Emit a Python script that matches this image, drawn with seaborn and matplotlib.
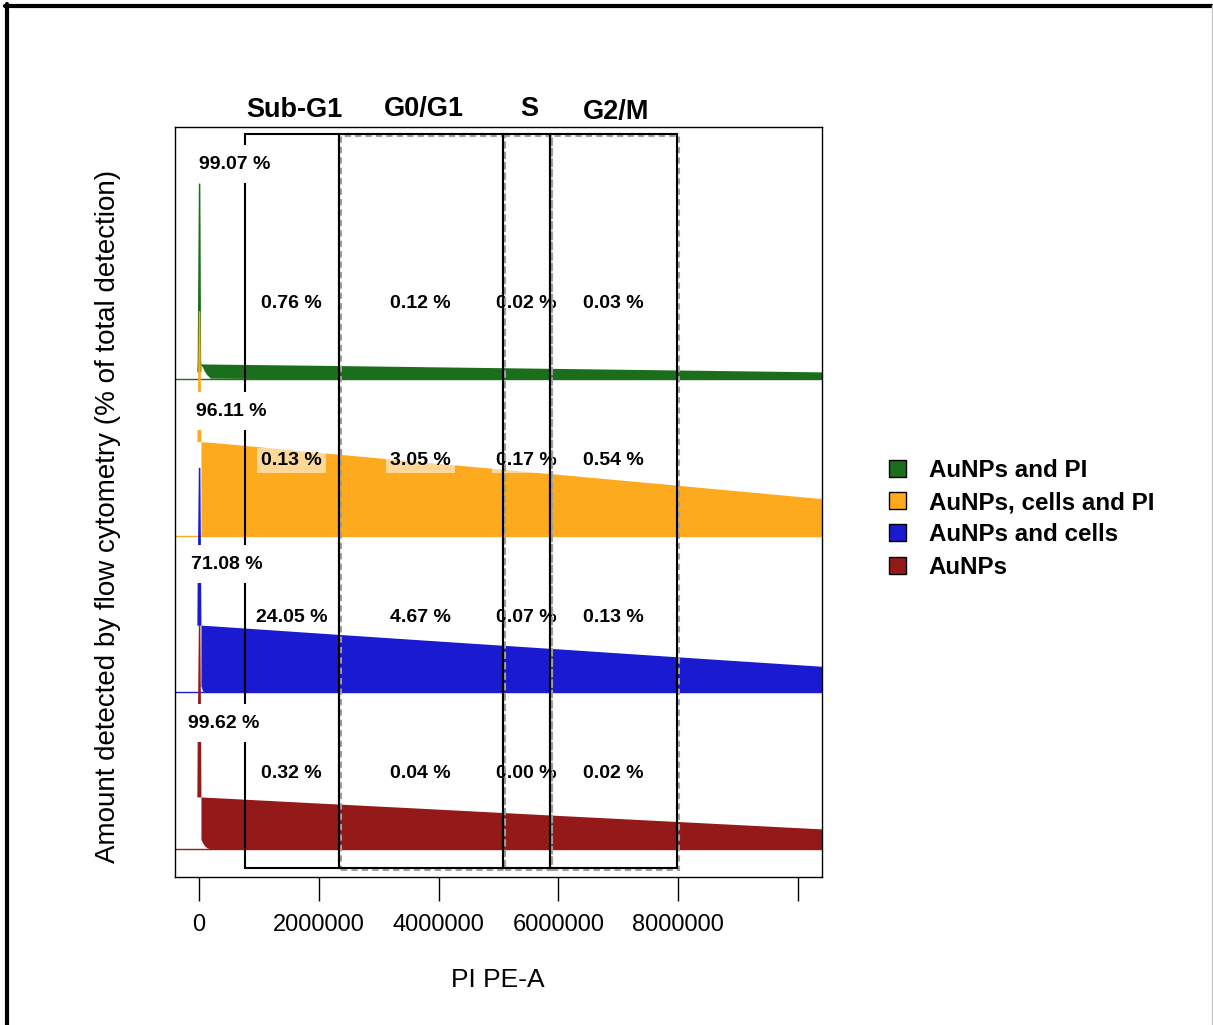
import numpy as np
import matplotlib
matplotlib.use("Agg")
import matplotlib.pyplot as plt
import matplotlib.transforms as mtransforms
from matplotlib.patches import Rectangle, Patch
from matplotlib.lines import Line2D
import seaborn as sns

sns.set_theme(style="white")
plt.rcParams["font.family"] = ["Liberation Sans", "DejaVu Sans"]
plt.rcParams["text.color"] = "black"
plt.rcParams["axes.labelcolor"] = "black"
plt.rcParams["xtick.color"] = "black"

# ---- samples (top ridge first) ----
samples = ["AuNPs and PI", "AuNPs, cells and PI", "AuNPs and cells", "AuNPs"]
colors = ["#1B6E1B", "#FEAA1E", "#1A1AD0", "#941A1A"]
offsets = [3, 2, 1, 0]

# narrow debris peak around zero (heights in ridge units)
spike_x = [-35000, -30000, -10000, 15000, 28000, 33000]
spike_green = [0.05, 0.12, 1.25, 1.25, 0.12, 0.096]
spike_orange = [0.60, 0.70, 1.436, 1.436, 0.70, 0.60]
spike_blue = [0.428, 0.72, 1.436, 1.436, 0.72, 0.428]
spike_red = [0.332, 0.70, 1.43, 1.43, 0.70, 0.332]
spike_base = [0.045, 0.60, 0.428, 0.332]

# long tail of the PI PE-A distribution
plateau_x = [33000, 60000, 90000, 130000, 190000,
             2000000, 4000000, 6000000, 8000000, 10400000]
top_green = [0.096, 0.096, 0.096, 0.095, 0.095, 0.087, 0.077, 0.067, 0.057, 0.045]
low_green = [0.090, 0.075, 0.050, 0.028, 0.005, 0, 0, 0, 0, 0]
top_orange = [0.600, 0.599, 0.598, 0.597, 0.596, 0.531, 0.461, 0.391, 0.321, 0.236]
low_orange = [0, 0, 0, 0, 0, 0, 0, 0, 0, 0]
top_blue = [0.428, 0.428, 0.427, 0.426, 0.425, 0.378, 0.327, 0.277, 0.226, 0.166]
low_blue = [0.040, 0.010, 0, 0, 0, 0, 0, 0, 0, 0]
top_red = [0.332, 0.331, 0.331, 0.330, 0.329, 0.293, 0.254, 0.214, 0.175, 0.128]
low_red = [0.060, 0.040, 0.022, 0.008, 0, 0, 0, 0, 0, 0]

spikes = [spike_green, spike_orange, spike_blue, spike_red]
tops = [top_green, top_orange, top_blue, top_red]
lows = [low_green, low_orange, low_blue, low_red]

# ---- cell-cycle gates ----
gate_names = ["Sub-G1", "G0/G1", "S", "G2/M"]
gate_lo = [768000, 2330000, 5070000, 5860000]
gate_hi = [2330000, 5070000, 5860000, 7980000]
gate_ymin, gate_ymax = -0.121, 4.564

outside_pct = [99.07, 96.11, 71.08, 99.62]
gate_pct = [[0.76, 0.12, 0.02, 0.03],
            [0.13, 3.05, 0.17, 0.54],
            [24.05, 4.67, 0.07, 0.13],
            [0.32, 0.04, 0.00, 0.02]]
outside_x = [600000, 534000, 467000, 417000]
outside_dy = [1.37, 0.795, 0.818, 0.803]

xticks = [0, 2000000, 4000000, 6000000, 8000000, 10000000]
xtick_labels = ["0", "2000000", "4000000", "6000000", "8000000", ""]
xlim = (-400000, 10400000)

W, H = 1213, 1025
fig = plt.figure(figsize=(W / 100, H / 100), dpi=100)
ax = fig.add_axes([175 / W, 1 - 877 / H, 647 / W, 750 / H])
ax.set_xlim(*xlim)
ax.set_ylim(-0.179, 4.608)

for i, (name, col, off) in enumerate(zip(samples, colors, offsets)):
    z = 1 + i * 0.1
    sns.lineplot(x=list(xlim), y=[off, off], ax=ax, color=col, lw=1.0,
                 zorder=z, legend=False)
    sx = np.array(spike_x)
    ax.fill_between(sx, off + spike_base[i], off + np.array(spikes[i]),
                    color=col, lw=0, zorder=z + 0.01)
    px = np.array(plateau_x)
    ax.fill_between(px, off + np.array(lows[i]), off + np.array(tops[i]),
                    color=col, lw=0, zorder=z + 0.01)

# gate boxes: grey dashed shadow + black outline
shadow = mtransforms.offset_copy(ax.transData, fig=fig, x=2, y=-2, units="dots")
for k, (lo, hi) in enumerate(zip(gate_lo, gate_hi)):
    if k > 0:
        ax.add_patch(Rectangle((lo, gate_ymin), hi - lo, gate_ymax - gate_ymin,
                               fill=False, ec="#a0a0a0", lw=1.5, ls=(0, (3, 2)),
                               transform=shadow, zorder=5))
    ax.add_patch(Rectangle((lo, gate_ymin), hi - lo, gate_ymax - gate_ymin,
                           fill=False, ec="black", lw=1.5, zorder=5.1))

title_tr = mtransforms.blended_transform_factory(ax.transData, ax.transAxes)
title_y = [1.023, 1.024, 1.024, 1.020]
for name, lo, hi, ty in zip(gate_names, gate_lo, gate_hi, title_y):
    ax.text((lo + hi) / 2 + 50000, ty, name, transform=title_tr,
            ha="center", va="center", fontsize=19.5, fontweight="bold",
            clip_on=False)

for i, off in enumerate(offsets):
    for k, (lo, hi) in enumerate(zip(gate_lo, gate_hi)):
        ax.text((lo + hi) / 2, off + 0.48, f"{gate_pct[i][k]:.2f} %",
                ha="center", va="center", fontsize=14, fontweight="bold",
                zorder=4,
                bbox=dict(boxstyle="square,pad=0.2", fc="white", ec="none",
                          alpha=0.55))
    ax.text(outside_x[i], off + outside_dy[i], f"{outside_pct[i]:.2f} %",
            ha="center", va="center", fontsize=14, fontweight="bold",
            zorder=6,
            bbox=dict(boxstyle="square,pad=0.55", fc="white", ec="none"))

ax.set_xticks(xticks)
ax.set_xticklabels(xtick_labels)
ax.set_yticks([])
ax.tick_params(axis="x", direction="out", length=17, width=1.0, pad=9.5,
               labelsize=17, color="black", labelcolor="black", bottom=True)
for s in ax.spines.values():
    s.set_color("black")
    s.set_linewidth(1.0)
    s.set_visible(True)

ax.set_xlabel("PI PE-A", fontsize=19, color="black")
ax.xaxis.set_label_coords(0.499, -0.121)
ax.set_ylabel("Amount detected by flow cytometry (% of total detection)",
              fontsize=20, color="black")
ax.yaxis.set_label_coords(-0.0835, 0.481)

handles = [Patch(fc=c, ec="black", lw=1.0) for c in colors]
leg = ax.legend(handles, samples, loc="upper left",
                bbox_to_anchor=(889 / W, 1 - 459 / H),
                bbox_transform=fig.transFigure, frameon=False,
                prop={"size": 17.4, "weight": "bold"},
                handlelength=0.7, handleheight=0.7, handletextpad=0.95,
                labelspacing=0.38, borderpad=0, borderaxespad=0)
for t in leg.get_texts():
    t.set_color("black")

# outer frame
fig.add_artist(Line2D([7 / W, 7 / W], [0, 1 - 4 / H], transform=fig.transFigure,
                      color="black", lw=3))
fig.add_artist(Line2D([5 / W, 1], [1 - 5.5 / H, 1 - 5.5 / H],
                      transform=fig.transFigure, color="black", lw=3))
fig.add_artist(Line2D([1211.5 / W, 1211.5 / W], [0, 1 - 5 / H],
                      transform=fig.transFigure, color="#c8c8c8", lw=1))

fig.savefig("out.png", dpi=100, facecolor="white")
